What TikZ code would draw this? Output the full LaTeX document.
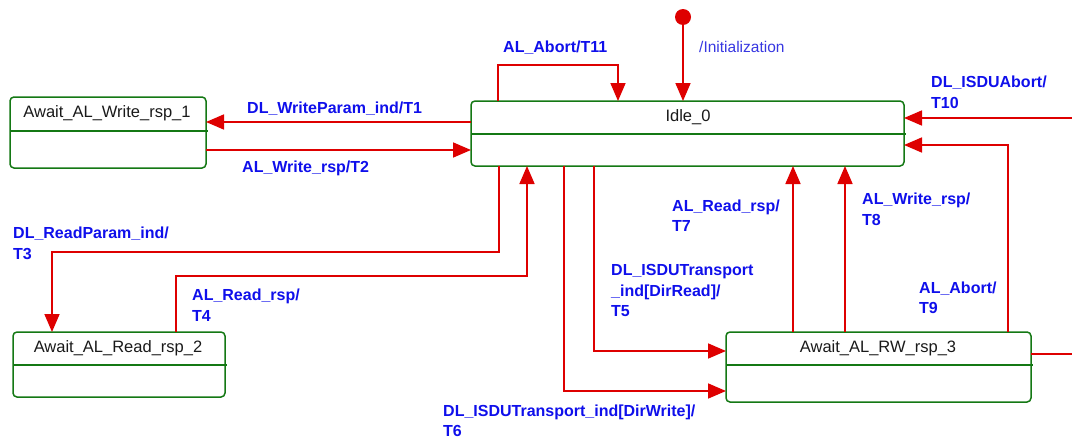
\documentclass[tikz,border=0pt]{standalone}
\usepackage{fontspec}
\setmainfont{Liberation Sans}
\usetikzlibrary{arrows.meta,calc}
\definecolor{tred}{RGB}{222,0,0}
\definecolor{sgreen}{RGB}{20,120,20}
\definecolor{lblue}{RGB}{15,15,235}
\definecolor{iblue}{RGB}{55,55,225}
\definecolor{ttxt}{RGB}{25,25,25}
\begin{document}
\begin{tikzpicture}[x=1pt,y=-1pt,
  statebox/.style={draw=sgreen,line width=1.5pt,rounded corners=4pt,inner sep=0pt,outer sep=0pt},
  divider/.style={draw=sgreen,line width=1.5pt},
  title/.style={font=\fontsize{16.5}{20}\selectfont,text=ttxt,inner sep=0pt},
  lbl/.style={font=\fontsize{16}{20.5}\selectfont\bfseries,text=lblue,inner sep=0pt,anchor=west,align=left},
  tr/.style={draw=tred,line width=1.7pt,-{Triangle[length=18pt,width=15pt]}},
  trplain/.style={draw=tred,line width=1.7pt}]
\useasboundingbox (0,0) rectangle (1072,439);

% states
\node[statebox,minimum width=196pt,minimum height=71pt] (w1) at (108,132.5) {};
\draw[divider] (10,131) -- (208,131);
\node[title] (w1t) at (107,113) {Await\_AL\_Write\_rsp\_1};

\node[statebox,minimum width=433pt,minimum height=65pt] (idle) at (687.5,133.5) {};
\draw[divider] (471,134) -- (906,134);
\node[title] (idlet) at (688,117) {Idle\_0};

\node[statebox,minimum width=212pt,minimum height=65pt] (r2) at (119,364.5) {};
\draw[divider] (13,365) -- (227,365);
\node[title] (r2t) at (118,348) {Await\_AL\_Read\_rsp\_2};

\node[statebox,minimum width=305pt,minimum height=70pt] (rw) at (878.5,367) {};
\draw[divider] (726,365) -- (1033,365);
\node[title] (rwt) at (878,348) {Await\_AL\_RW\_rsp\_3};

% initial
\node[circle,fill=tred,minimum size=16pt,inner sep=0pt] (init) at (683,17) {};
\draw[tr] (init) -- (init |- idle.north);
\node[font=\fontsize{15.5}{20}\selectfont,text=iblue,inner sep=0pt,anchor=west] (initl) at (699,47) {/Initialization};

% T11 self loop
\coordinate (t11s) at ([xshift=27pt]idle.north west);
\coordinate (t11e) at ([xshift=147pt]idle.north west);
\draw[tr] (t11s) -- ++(0,-36) -| (t11e);
\node[lbl] (l11) at (503,48) {AL\_Abort/T11};

% T1, T2
\coordinate (t1s) at ([yshift=11.5pt]idle.west);
\draw[tr] (t1s) -- (t1s -| w1.east);
\node[lbl] (l1) at (247,109) {DL\_WriteParam\_ind/T1};
\coordinate (t2s) at ([yshift=-17.5pt]w1.east);
\draw[tr] (t2s) -- (t2s -| idle.west);
\node[lbl] (l2) at (242,168) {AL\_Write\_rsp/T2};

% T10
\coordinate (t10s) at (1072,118);
\draw[tr] (t10s) -- (t10s -| idle.east);
\node[lbl] (l10) at (931,92.5) {DL\_ISDUAbort/\\T10};

% T9
\coordinate (t9s) at ([xshift=282pt]rw.north west);
\coordinate (t9e) at ([yshift=-11.5pt]idle.east);
\draw[tr] (t9s) |- (t9e);
\node[lbl] (l9) at (919,298) {AL\_Abort/\\T9};

% exit right of RW
\coordinate (rwx) at (1072,354);
\draw[trplain] (rwx -| rw.east) -- (rwx);

% T7, T8
\coordinate (t7s) at ([xshift=67pt]rw.north west);
\draw[tr] (t7s) -- (t7s |- idle.south);
\node[lbl] (l7) at (672,215.5) {AL\_Read\_rsp/\\T7};
\coordinate (t8s) at ([xshift=119pt]rw.north west);
\draw[tr] (t8s) -- (t8s |- idle.south);
\node[lbl] (l8) at (862,209.5) {AL\_Write\_rsp/\\T8};

% T5, T6
\coordinate (t5s) at ([xshift=123pt]idle.south west);
\coordinate (t5e) at ([yshift=16pt]rw.west);
\draw[tr] (t5s) |- (t5e);
\node[lbl] (l5) at (611,290.5) {DL\_ISDUTransport\\\_ind[DirRead]/\\T5};
\coordinate (t6s) at ([xshift=93pt]idle.south west);
\coordinate (t6e) at ([yshift=-24pt]rw.west);
\draw[tr] (t6s) |- (t6e);
\node[lbl] (l6) at (443,421) {DL\_ISDUTransport\_ind[DirWrite]/\\T6};

% T3
\coordinate (t3s) at ([xshift=28pt]idle.south west);
\coordinate (t3e) at ([xshift=39pt]r2.north west);
\coordinate (t3k) at (t3e |- 0,252);
\draw[tr] (t3s) |- (t3k) -- (t3e);
\node[lbl] (l3) at (13,243.5) {DL\_ReadParam\_ind/\\T3};

% T4
\coordinate (t4s) at ([xshift=163pt]r2.north west);
\coordinate (t4e) at ([xshift=56pt]idle.south west);
\coordinate (t4k) at (t4s |- 0,276);
\draw[tr] (t4s) -- (t4k) -| (t4e);
\node[lbl] (l4) at (192,305) {AL\_Read\_rsp/\\T4};
\end{tikzpicture}
\end{document}
